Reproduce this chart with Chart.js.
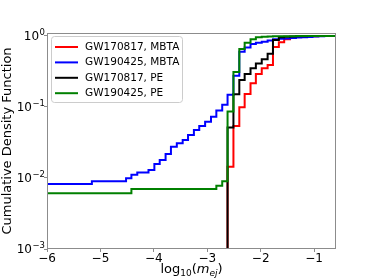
<!DOCTYPE html>
<html>
<head>
<meta charset="utf-8">
<script src="https://cdn.jsdelivr.net/npm/chart.js@4"></script>
<style>
  body { margin: 0; background: #fff; }
  canvas { display: block; }
</style>
</head>
<body>
<canvas id="myChart" width="374" height="280"></canvas>
<script>
// series labels (legend order)
var seriesLabels = ["GW170817, MBTA", "GW190425, MBTA", "GW170817, PE", "GW190425, PE"];

// step positions (left bin edges, log10 m_ej) and cumulative values
var redX = [-2.62, -2.51, -2.40, -2.30, -2.19, -2.09, -1.98, -1.87, -1.77, -1.66, -1.56, -1.45, -1.34, -1.24, -1.13, -1.03, -0.92, -0.81, -0.71, -0.60];
var redY = [0.0144, 0.054, 0.099, 0.152, 0.216, 0.29, 0.35, 0.39, 0.70, 0.815, 0.90, 0.95, 0.97, 0.98, 0.99, 0.994, 0.997, 0.999, 1.0, 1.0];

var blueX = [-6.0, -5.16, -4.52, -4.42, -4.31, -4.10, -3.99, -3.89, -3.78, -3.68, -3.57, -3.46, -3.36, -3.25, -3.15, -3.04, -2.93, -2.83, -2.72, -2.62, -2.51, -2.40, -2.30, -2.19, -2.09, -1.98, -1.87, -1.77, -1.66, -1.56, -1.45, -1.34, -1.24, -1.13, -1.03, -0.92, -0.81, -0.71, -0.60];
var blueY = [0.0082, 0.0090, 0.0099, 0.0111, 0.0119, 0.0130, 0.0157, 0.0179, 0.0218, 0.0276, 0.0308, 0.0343, 0.0403, 0.0474, 0.054, 0.062, 0.073, 0.089, 0.107, 0.149, 0.276, 0.60, 0.69, 0.77, 0.80, 0.83, 0.86, 0.90, 0.91, 0.92, 0.935, 0.95, 0.96, 0.97, 0.98, 0.99, 0.995, 0.998, 1.0];

var blackX = [-2.62, -2.51, -2.40, -2.30, -2.19, -2.09, -1.98, -1.87, -1.77, -1.66, -1.56, -1.45, -1.34, -1.24, -1.13, -1.03, -0.92, -0.81, -0.71, -0.60];
var blackY = [0.0514, 0.151, 0.24, 0.29, 0.35, 0.41, 0.47, 0.56, 0.88, 0.96, 0.975, 0.985, 0.99, 0.993, 0.995, 0.997, 0.998, 0.999, 1.0, 1.0];

var greenX = [-6.0, -4.42, -2.83, -2.72, -2.62, -2.51, -2.40, -2.30, -2.19, -2.09, -1.98, -1.87, -1.77, -1.66, -1.56, -1.45, -1.34, -1.24, -1.13, -1.03, -0.92, -0.81, -0.71, -0.60];
var greenY = [0.0061, 0.0070, 0.0078, 0.0090, 0.0865, 0.311, 0.656, 0.80, 0.90, 0.96, 0.975, 0.982, 0.987, 0.99, 0.992, 0.994, 0.996, 0.997, 0.998, 0.999, 0.9995, 1.0, 1.0, 1.0];

// axis ticks
var xTicks = [-6, -5, -4, -3, -2, -1];
var yTicks = [0.001, 0.01, 0.1, 1];

var X_MIN = -6, X_MAX = -0.59;
var Y_MIN = 0.001, Y_MAX = 1.1;
var FONT = '"DejaVu Sans", sans-serif';

// build step points; histograms that start from zero rise from below the axis
function steps(xs, ys, fromZero) {
  var pts = [];
  if (fromZero) pts.push({ x: xs[0], y: 0.0001 });
  for (var i = 0; i < xs.length; i++) pts.push({ x: xs[i], y: ys[i] });
  pts.push({ x: X_MAX, y: ys[ys.length - 1] });
  return pts;
}

function ds(label, pts, color, order) {
  return {
    label: label,
    data: pts,
    borderColor: color,
    backgroundColor: color,
    borderWidth: 2,
    pointRadius: 0,
    fill: false,
    stepped: true,
    order: order,
    clip: 0
  };
}

var plotFrame = {
  id: "plotFrame",
  afterDatasetsDraw: function (chart) {
    var a = chart.chartArea, ctx = chart.ctx;
    ctx.save();
    ctx.strokeStyle = "#8c8c8c";
    ctx.lineWidth = 1;
    ctx.strokeRect(Math.round(a.left) + 0.5, Math.round(a.top) + 0.5,
      Math.round(a.right - a.left) - 1, Math.round(a.bottom - a.top) - 1);
    ctx.restore();
  },
  afterDraw: function (chart) {
    var a = chart.chartArea, ctx = chart.ctx;
    ctx.save();

    // y tick labels as 10^n
    var ys = chart.scales.y;
    ys.ticks.forEach(function (t) {
      var py = ys.getPixelForValue(t.value);
      var e = Math.round(Math.log10(t.value));
      var es = e < 0 ? "\u2212" + (-e) : String(e);
      var right = a.left - 2;
      ctx.font = "8.5px " + FONT;
      var w2 = ctx.measureText(es).width;
      ctx.font = "12px " + FONT;
      var w1 = ctx.measureText("10").width;
      ctx.fillStyle = "#000";
      ctx.textAlign = "left";
      ctx.textBaseline = "middle";
      ctx.fillText("10", right - w2 - w1 - 0.5, py + 1);
      ctx.font = "8.5px " + FONT;
      ctx.textBaseline = "alphabetic";
      ctx.fillText(es, right - w2, py - 1);
    });

    // x axis title log10(m_ej)
    var parts = [
      { t: "log", f: "13px " + FONT, dy: 0 },
      { t: "10", f: "9px " + FONT, dy: 3 },
      { t: "(", f: "13px " + FONT, dy: 0 },
      { t: "m", f: "italic 13px " + FONT, dy: 0 },
      { t: "ej", f: "italic 9px " + FONT, dy: 3 },
      { t: ")", f: "13px " + FONT, dy: 0 }
    ];
    var total = 0;
    parts.forEach(function (p) { ctx.font = p.f; p.w = ctx.measureText(p.t).width; total += p.w; });
    var x = (a.left + a.right) / 2 - total / 2;
    ctx.textAlign = "left";
    ctx.textBaseline = "alphabetic";
    parts.forEach(function (p) {
      ctx.font = p.f;
      ctx.fillText(p.t, x, 273 + p.dy);
      x += p.w;
    });

    // y axis title
    ctx.save();
    ctx.translate(11, (a.top + a.bottom) / 2);
    ctx.rotate(-Math.PI / 2);
    ctx.font = "13px " + FONT;
    ctx.textAlign = "center";
    ctx.fillText("Cumulative Density Function", 0, 0);
    ctx.restore();

    // legend box (upper left)
    var lx = a.left + 4.5, ly = a.top + 3.5, lw = 131, lh = 66;
    ctx.beginPath();
    ctx.roundRect(lx, ly, lw, lh, 3);
    ctx.fillStyle = "rgba(255,255,255,0.8)";
    ctx.fill();
    ctx.strokeStyle = "#cccccc";
    ctx.lineWidth = 1;
    ctx.stroke();
    ctx.font = "10.5px " + FONT;
    ctx.textBaseline = "middle";
    chart.data.datasets.forEach(function (d, i) {
      var ry = ly + 10.5 + i * 15.4;
      ctx.strokeStyle = d.borderColor;
      ctx.lineWidth = 2;
      ctx.beginPath();
      ctx.moveTo(lx + 3.5, ry);
      ctx.lineTo(lx + 26.5, ry);
      ctx.stroke();
      ctx.fillStyle = "#000";
      ctx.fillText(d.label, lx + 33.5, ry);
    });
    ctx.restore();
  }
};

var canvas = document.getElementById("myChart");
var ctx = canvas.getContext("2d");

var myChart = new Chart(ctx, {
  type: "line",
  data: {
    datasets: [
      ds(seriesLabels[0], steps(redX, redY, true), "#ff0000", 3),
      ds(seriesLabels[1], steps(blueX, blueY, false), "#0000ff", 2),
      ds(seriesLabels[2], steps(blackX, blackY, true), "#000000", 1),
      ds(seriesLabels[3], steps(greenX, greenY, false), "#008000", 0)
    ]
  },
  options: {
    responsive: false,
    animation: false,
    devicePixelRatio: 1,
    layout: { padding: { left: 0, top: 33, right: 38, bottom: 0 } },
    plugins: { legend: { display: false }, tooltip: { enabled: false } },
    scales: {
      x: {
        type: "linear",
        min: X_MIN,
        max: X_MAX,
        afterBuildTicks: function (scale) {
          scale.ticks = xTicks.map(function (v) { return { value: v }; });
        },
        afterFit: function (scale) { scale.height = 31; },
        border: { display: false },
        grid: { drawOnChartArea: false, drawTicks: true, tickLength: 3, color: "#8c8c8c" },
        ticks: {
          padding: 0,
          maxRotation: 0,
          color: "#000",
          font: { family: "DejaVu Sans", size: 12 },
          callback: function (v) { return v < 0 ? "\u2212" + Math.abs(v) : String(v); }
        }
      },
      y: {
        type: "logarithmic",
        min: Y_MIN,
        max: Y_MAX,
        afterBuildTicks: function (scale) {
          scale.ticks = yTicks.map(function (v) { return { value: v, major: true }; });
        },
        afterFit: function (scale) { scale.width = 47; },
        border: { display: false },
        grid: { drawOnChartArea: false, drawTicks: true, tickLength: 3, color: "#8c8c8c" },
        ticks: { display: false }
      }
    }
  },
  plugins: [plotFrame]
});
</script>
</body>
</html>
